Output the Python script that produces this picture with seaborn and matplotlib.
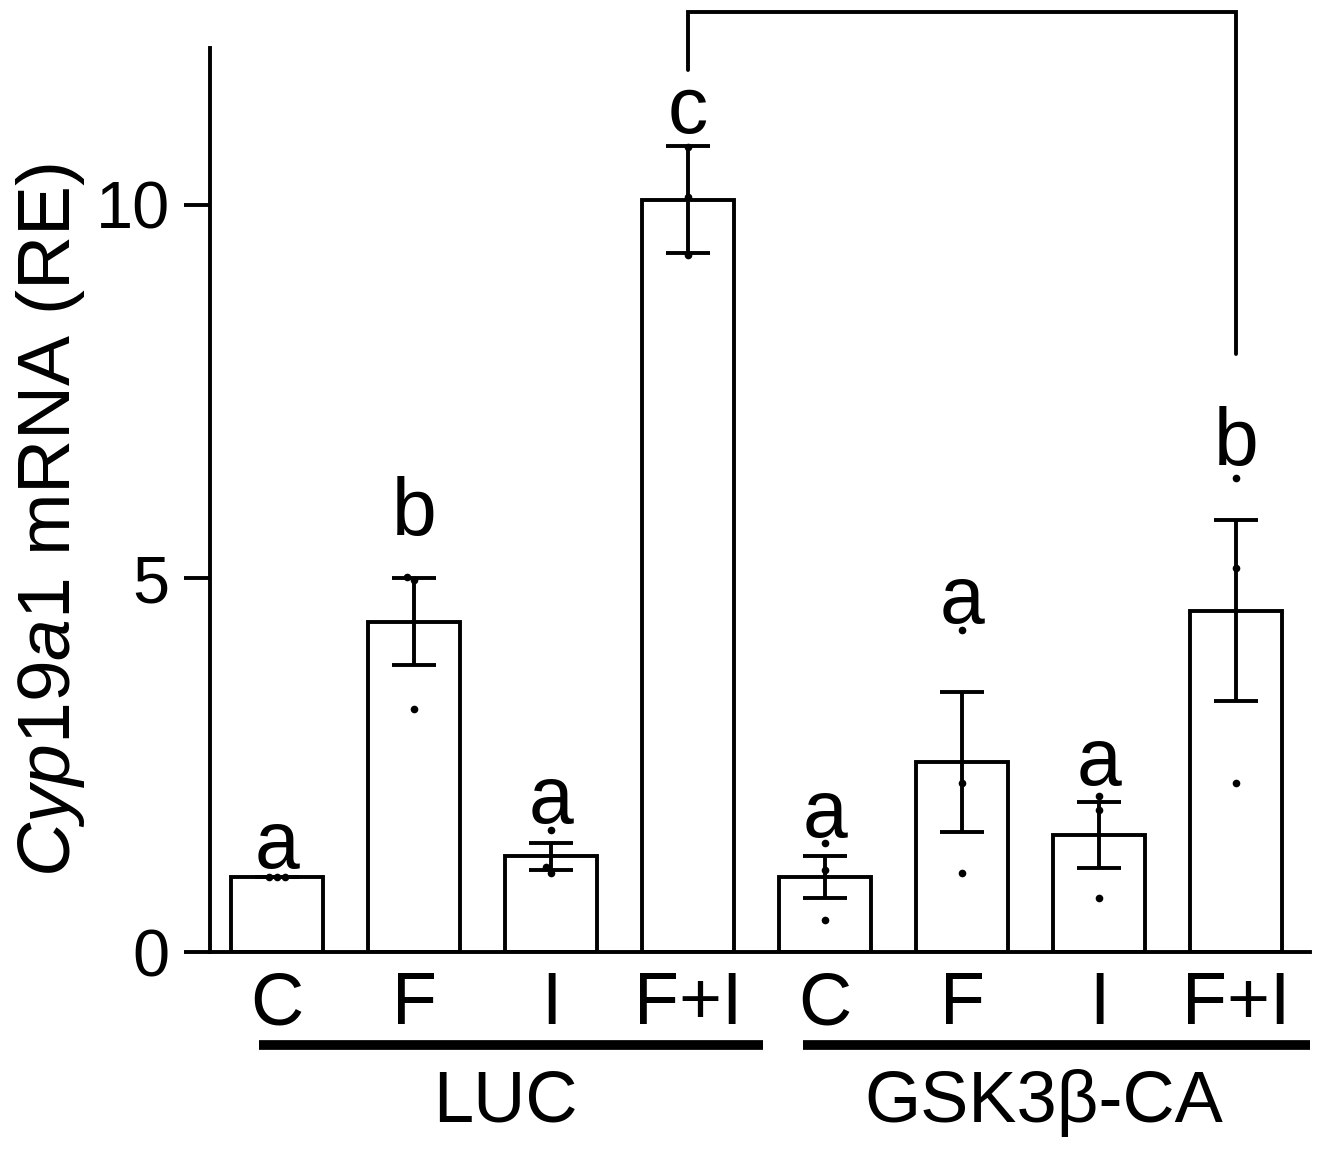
import numpy as np
import pandas as pd
import matplotlib
matplotlib.use("Agg")
import matplotlib.pyplot as plt
import matplotlib.transforms as mtransforms
import seaborn as sns

# ---- data ----
groups = ["LUC", "LUC", "LUC", "LUC", "GSK3β-CA", "GSK3β-CA", "GSK3β-CA", "GSK3β-CA"]
treatments = ["C", "F", "I", "F+I", "C", "F", "I", "F+I"]
means = [1.00, 4.42, 1.28, 10.07, 1.00, 2.54, 1.57, 4.57]
sems = [0.00, 0.58, 0.18, 0.72, 0.28, 0.94, 0.44, 1.21]
dots = [
    [1.00, 1.00, 1.00],
    [5.02, 4.98, 3.25],
    [1.63, 1.14, 1.06],
    [9.33, 10.78, 10.10],
    [1.46, 1.10, 0.43],
    [4.31, 2.26, 1.06],
    [2.09, 1.90, 0.72],
    [6.35, 5.14, 2.26],
]
letters = ["a", "b", "a", "c", "a", "a", "a", "b"]
letter_y = [1.13, 5.58, 1.73, 10.96, 1.54, 4.40, 2.24, 6.52]
bracket_x = [3, 3, 7, 7]
bracket_y = [11.8, 12.58, 12.58, 8.0]

keys = [g + " " + t for g, t in zip(groups, treatments)]
bar_df = pd.DataFrame({"key": keys, "mean": means, "sem": sems})
dot_df = pd.DataFrame({
    "key": np.repeat(keys, [len(d) for d in dots]),
    "value": [v for d in dots for v in d],
})

# ---- style ----
sns.set_style("ticks")
plt.rcParams["font.family"] = ["Liberation Sans", "DejaVu Sans"]
plt.rcParams["mathtext.fontset"] = "custom"
plt.rcParams["mathtext.rm"] = "Liberation Sans"
plt.rcParams["mathtext.it"] = "Liberation Sans:italic"
for k in ["text.color", "axes.labelcolor", "xtick.color", "ytick.color", "axes.edgecolor"]:
    plt.rcParams[k] = "black"
LW = 2.8

fig = plt.figure(figsize=(13.18, 11.52), dpi=100)
ax = fig.add_axes([0.1593, 0.1736, 0.8346, 0.7847])

sns.barplot(data=bar_df, x="key", y="mean", order=keys, color="white",
            edgecolor="black", linewidth=LW, width=0.67, errorbar=None,
            saturation=1, ax=ax)
ax.errorbar(np.arange(len(keys)), bar_df["mean"], yerr=bar_df["sem"], fmt="none",
            ecolor="black", elinewidth=LW, capsize=16, capthick=LW, zorder=4)
sns.swarmplot(data=dot_df, x="key", y="value", order=keys, color="black",
              size=5.5, ax=ax, zorder=5)

for i, (lab, ly) in enumerate(zip(letters, letter_y)):
    ax.text(i, ly, lab, ha="center", va="baseline", fontsize=58)

ax.plot(bracket_x, bracket_y, color="black", lw=LW, clip_on=False,
        solid_joinstyle="miter")

# ---- axes ----
ax.set_xlim(-0.49, 7.54)
ax.set_ylim(0, 12.1)
ax.set_yticks([0, 5, 10])
ax.set_yticklabels(["0", "5", "10"])
ax.set_xticks(np.arange(len(keys)))
ax.set_xticklabels(treatments)
ax.tick_params(axis="y", length=19, width=LW, pad=10, labelsize=48)
ax.tick_params(axis="x", length=0, pad=13, labelsize=53)
ax.set_xlabel("")
ax.set_ylabel(r"$\it{Cyp19a1}$ mRNA (RE)", fontsize=54)
ax.yaxis.set_label_coords(-0.112, 0.478)
for side in ["top", "right"]:
    ax.spines[side].set_visible(False)
for side in ["left", "bottom"]:
    ax.spines[side].set_linewidth(LW)

# group underlines and labels
trans = mtransforms.blended_transform_factory(ax.transData, ax.transAxes)
ax.plot([-0.13, 3.55], [-0.103, -0.103], color="black", lw=7, transform=trans,
        clip_on=False, solid_capstyle="butt")
ax.plot([3.84, 7.54], [-0.103, -0.103], color="black", lw=7, transform=trans,
        clip_on=False, solid_capstyle="butt")
ax.text(1.67, -0.167, "LUC", ha="center", va="center", fontsize=52, transform=trans)
ax.text(5.6, -0.167, "GSK3β-CA", ha="center", va="center", fontsize=52, transform=trans)

fig.savefig("out.png", dpi=100)
